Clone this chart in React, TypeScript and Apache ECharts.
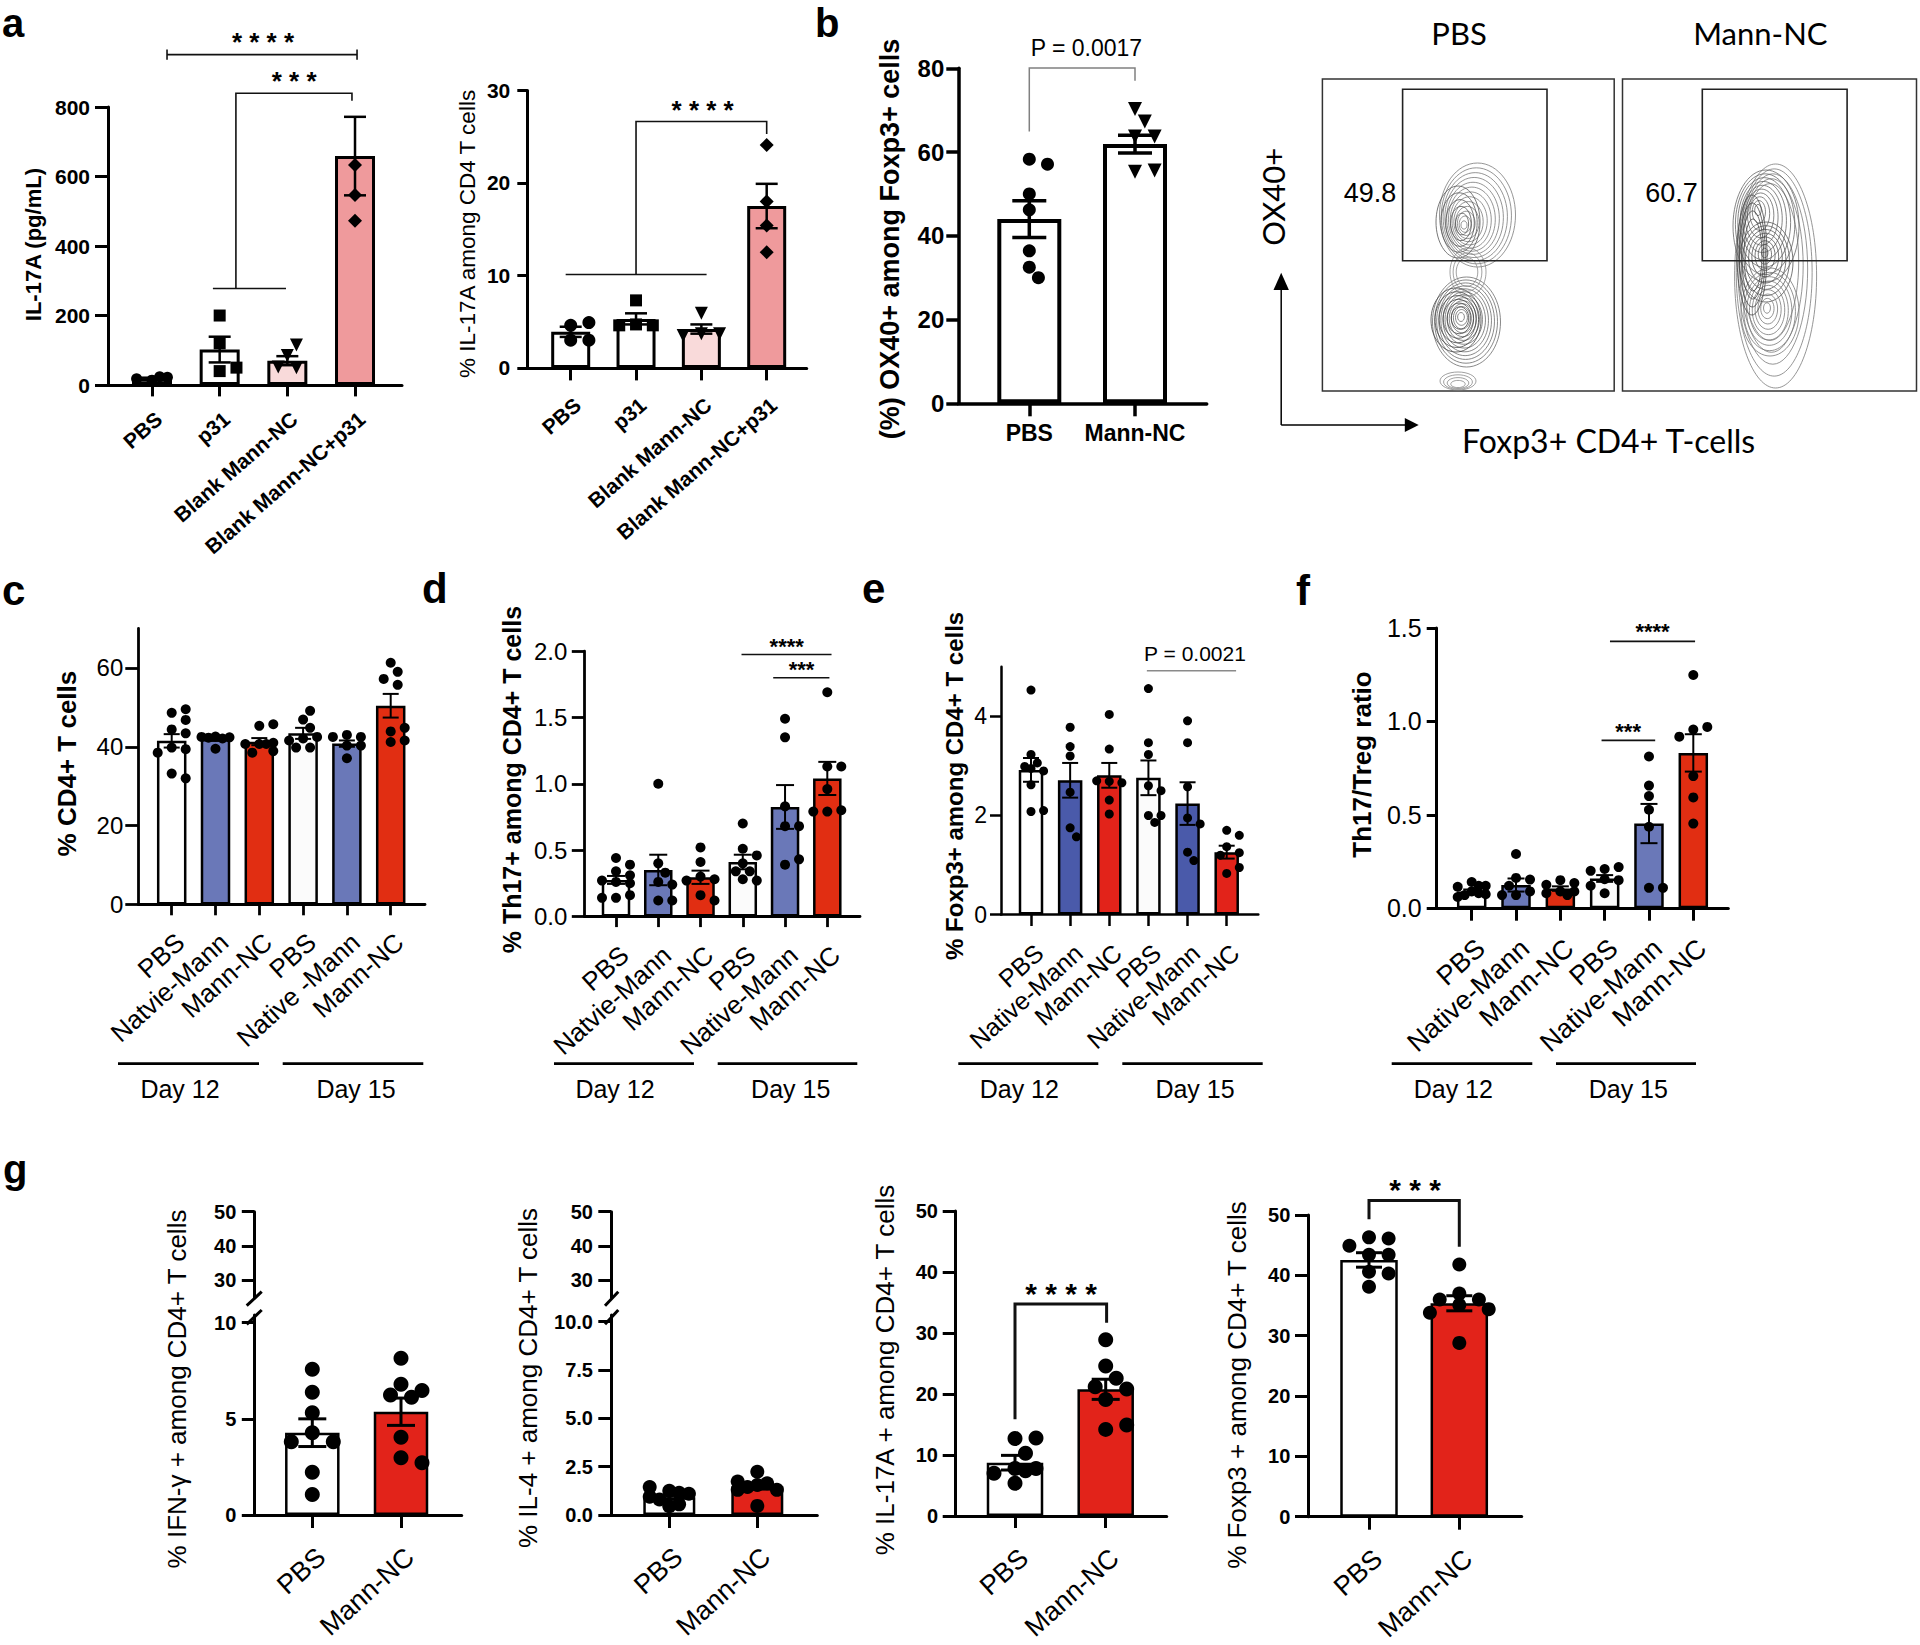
import React, { useEffect, useRef } from "react";
import * as echarts from "echarts";

const FONT = "'Liberation Sans', Arial, Helvetica, sans-serif";
const FONT_FLOW = "Lato, 'Open Sans', sans-serif";

// ================= DATA =================
// Panel a (left): IL-17A (pg/mL)
const A1_CATS = ["PBS", "p31", "Blank Mann-NC", "Blank Mann-NC+p31"];
const A1_YTICKS = [0, 200, 400, 600, 800];
const A1_MEAN = [18, 102, 70, 659];
const A1_SEM = [3, 37, 13, 113];
const A1_PBS = [14, 22, 18, 24];
const A1_P31 = [200, 120, 40, 50];
const A1_BLANK = [85, 115, 50, 52];
const A1_BLANK_P31 = [633, 547, 473];

// Panel a (right): % IL-17A among CD4 T cells
const A2_CATS = ["PBS", "p31", "Blank Mann-NC", "Blank Mann-NC+p31"];
const A2_YTICKS = [0, 10, 20, 30];
const A2_MEAN = [3.9, 5.3, 4.2, 17.5];
const A2_SEM = [0.55, 0.6, 0.5, 2.4];
const A2_PBS = [4.6, 4.9, 3.0, 3.0];
const A2_P31 = [7.3, 4.7, 4.6, 4.6];
const A2_BLANK = [5.9, 3.7, 3.7, 3.5];
const A2_BLANK_P31 = [24.1, 18.0, 15.4, 12.5];

// Panel b: (%) OX40+ among Foxp3+ cells
const B_CATS = ["PBS", "Mann-NC"];
const B_YTICKS = [0, 20, 40, 60, 80];
const B_MEAN = [44.0, 61.9];
const B_SEM = [4.4, 2.1];
const B_PBS = [58.3, 57.1, 50.0, 46.2, 36.4, 32.5, 30.0];
const B_MANN = [70.3, 67.3, 63.7, 63.7, 55.3, 55.6];

// Panel c: % CD4+ T cells
const C_CATS = ["PBS", "Natvie-Mann", "Mann-NC", "PBS", "Native -Mann", "Mann-NC"];
const C_YTICKS = [0, 20, 40, 60];
const C_MEAN = [41.5, 42.0, 41.3, 43.4, 40.8, 50.4];
const C_SEM = [1.7, 0.5, 0.9, 1.4, 0.8, 3.0];
const C_PTS = [
  [48.6, 49.5, 44.4, 46.8, 43.4, 39.8, 39.4, 38.5, 33.2, 32.0],
  [42.6, 42.4, 42.5, 42.1, 42.3, 39.5],
  [45.3, 45.7, 40.7, 41.0, 40.7, 40.7, 38.5, 38.9],
  [46.9, 49.1, 44.8, 42.1, 42.5, 41.6, 39.8, 39.8],
  [43.0, 42.5, 42.5, 40.3, 40.3, 37.1],
  [61.3, 59.0, 57.2, 55.7, 43.9, 44.8, 41.2, 41.6],
];

// Panel d: % Th17+ among CD4+ T cells
const D_CATS = ["PBS", "Natvie-Mann", "Mann-NC", "PBS", "Native-Mann", "Mann-NC"];
const D_YTICKS = [0, 0.5, 1.0, 1.5, 2.0];
const D_MEAN = [0.275, 0.35, 0.295, 0.41, 0.825, 1.04];
const D_SEM = [0.03, 0.115, 0.05, 0.055, 0.165, 0.125];
const D_PTS = [
  [0.44, 0.39, 0.34, 0.31, 0.26, 0.27, 0.25, 0.14, 0.16, 0.14],
  [1.0, 0.40, 0.33, 0.26, 0.24, 0.12, 0.12],
  [0.52, 0.41, 0.30, 0.28, 0.27, 0.16, 0.12],
  [0.70, 0.51, 0.46, 0.40, 0.34, 0.34, 0.28, 0.27],
  [1.49, 1.35, 0.83, 0.68, 0.68, 0.39, 0.43],
  [1.69, 1.13, 1.13, 0.96, 0.79, 0.80, 0.79],
];

// Panel e: % Foxp3+ among CD4+ T cells
const E_CATS = ["PBS", "Native-Mann", "Mann-NC", "PBS", "Native-Mann", "Mann-NC"];
const E_YTICKS = [0, 2, 4];
const E_MEAN = [2.92, 2.71, 2.81, 2.76, 2.24, 1.26];
const E_SEM = [0.24, 0.35, 0.25, 0.35, 0.43, 0.13];
const E_PTS = [
  [4.53, 3.23, 3.06, 2.99, 2.90, 2.95, 2.62, 2.08, 2.10],
  [3.78, 3.39, 3.20, 2.47, 1.75, 1.57],
  [4.04, 3.34, 2.69, 2.66, 2.70, 2.31, 2.03],
  [4.56, 3.47, 3.23, 2.60, 2.50, 2.00, 2.00, 1.86],
  [3.91, 3.47, 2.58, 1.95, 1.83, 1.26, 1.09],
  [1.70, 1.60, 1.37, 1.25, 1.20, 0.83, 0.95],
];

// Panel f: Th17/Treg ratio
const F_CATS = ["PBS", "Native-Mann", "Mann-NC", "PBS", "Native-Mann", "Mann-NC"];
const F_YTICKS = [0, 0.5, 1.0, 1.5];
const F_MEAN = [0.09, 0.124, 0.105, 0.159, 0.453, 0.831];
const F_SEM = [0.01, 0.035, 0.012, 0.018, 0.105, 0.1];
const F_PTS = [
  [0.14, 0.12, 0.115, 0.12, 0.09, 0.08, 0.07, 0.075, 0.06],
  [0.29, 0.162, 0.153, 0.12, 0.07, 0.09, 0.07],
  [0.15, 0.135, 0.125, 0.09, 0.09, 0.08, 0.07],
  [0.21, 0.22, 0.20, 0.155, 0.15, 0.12, 0.08],
  [0.812, 0.656, 0.60, 0.527, 0.436, 0.109, 0.109],
  [1.248, 0.956, 0.97, 0.918, 0.707, 0.593, 0.453],
];

// Panel g
const G_CATS = ["PBS", "Mann-NC"];
const G_TOP_TICKS = [30, 40, 50];
const G1_YTICKS = [0, 5, 10];
const G1_MEAN = [4.28, 5.37];
const G1_SEM = [0.72, 0.71];
const G1_PTS = [
  [7.58, 6.38, 5.32, 4.28, 3.81, 3.81, 2.22, 1.07],
  [8.15, 6.8, 6.47, 6.24, 6.12, 4.04, 2.98, 2.72],
];
const G2_YTICKS = [0, 2.5, 5, 7.5, 10];
const G2_MEAN = [0.92, 1.47];
const G2_SEM = [0.1, 0.13];
const G2_PTS = [
  [1.25, 1.1, 1.45, 1.15, 0.8, 0.95, 0.55, 0.45],
  [2.24, 1.64, 1.73, 1.55, 1.45, 1.3, 1.3, 0.47],
];
const G3_YTICKS = [0, 10, 20, 30, 40, 50];
const G3_MEAN = [8.74, 20.77];
const G3_SEM = [1.2, 1.65];
const G3_PTS = [
  [12.7, 12.8, 10.3, 7.8, 7.8, 7.0, 7.4, 5.36],
  [28.9, 24.6, 22.6, 21.2, 20.8, 19.1, 14.2, 14.9],
];
const G4_YTICKS = [0, 10, 20, 30, 40, 50];
const G4_MEAN = [42.55, 35.37];
const G4_SEM = [1.2, 1.25];
const G4_PTS = [
  [46.3, 46.1, 44.9, 43.4, 43.4, 40.6, 40.3, 38.1],
  [41.8, 37.0, 36.0, 36.0, 35.1, 34.4, 33.8, 28.8],
];

// Significance annotations (data coordinates of each panel)
const A1_ANN = [
  { lines: [[[0.222, 951], [3.03, 951]], [[0.222, 936], [0.222, 966]], [[3.03, 936], [3.03, 966]]], text: "* * * *", tx: 1.64, ty: 1004, size: 26, bold: true, star: true },
  { lines: [[[1.24, 278], [1.24, 840], [2.955, 840], [2.955, 818]], [[0.9, 278], [1.98, 278]]], text: "* * *", tx: 2.1, ty: 893, size: 26, bold: true, star: true },
];
const A2_ANN = [
  { lines: [[[1.0, 10.1], [1.0, 26.64], [3.0, 26.64], [3.0, 25.3]], [[-0.077, 10.1], [2.08, 10.1]]], text: "* * * *", tx: 2.02, ty: 28.56, size: 26, bold: true, star: true },
];
const B_ANN = [
  { lines: [[[0, 64.9], [0, 80.1], [1.0, 80.1], [1.0, 77]]], text: "P = 0.0017", tx: 0.54, ty: 84.8, size: 23, bold: false, star: false, lineColor: "#808080", lineWidth: 1.5 },
];
const D_ANN = [
  { lines: [[[2.97, 1.974], [5.1, 1.974]]], text: "****", tx: 4.04, ty: 2.073, size: 22, bold: true, star: true },
  { lines: [[[3.72, 1.799], [5.05, 1.799]]], text: "***", tx: 4.39, ty: 1.901, size: 22, bold: true, star: true },
];
const E_ANN = [
  { lines: [[[2.96, 4.92], [5.24, 4.92]]], text: "P = 0.0021", tx: 4.19, ty: 5.27, size: 21, bold: false, star: false, lineColor: "#8a8a8a", lineWidth: 1.5 },
];
const F_ANN = [
  { lines: [[[3.12, 1.428], [5.04, 1.428]]], text: "****", tx: 4.08, ty: 1.51, size: 22, bold: true, star: true },
  { lines: [[[2.93, 0.898], [4.14, 0.898]]], text: "***", tx: 3.53, ty: 0.975, size: 22, bold: true, star: true },
];
const G3_ANN = [
  { lines: [[[0, 15.85], [0, 34.75], [1.01, 34.75], [1.01, 31.7]]], text: "* * * *", tx: 0.507, ty: 37.6, size: 30, bold: true, star: true, lineWidth: 3 },
];
const G4_ANN = [
  { lines: [[[0, 49.3], [0, 52.4], [1.0, 52.4], [1.0, 44.75]]], text: "* * *", tx: 0.51, ty: 55.3, size: 30, bold: true, star: true, lineWidth: 3 },
];

// ================= STYLE =================
const WHITE = "#ffffff";
const OFFWHITE = "#fbfbfb";
const PINK_LIGHT = "#f9dada";
const PINK = "#ef9a9c";
const BLUE_C = "#6a78b8";
const RED_C = "#e12e12";
const BLUE_E = "#4a5aaa";
const RED_E = "#e2231a";

const SIX_C = [WHITE, BLUE_C, RED_C, OFFWHITE, BLUE_C, RED_C];
const SIX_E = [WHITE, BLUE_E, RED_E, OFFWHITE, BLUE_E, RED_E];
const CIRC6 = ["circle", "circle", "circle", "circle", "circle", "circle"];
const ZERO6 = [0, 0, 0, 0, 0, 0];

const PANELS: any[] = [
  { // a left
    axisX: 108, endX: 402, c0: 152, sp: 67.67, yTopPx: 107.1, yBotPx: 385, yMin: 0, yMax: 800, yTicks: A1_YTICKS, yDec: 0,
    yLabSize: 21, yLabBold: true, yLabMargin: 18, yTickLen: 13,
    cats: A1_CATS, xLabSize: 21, xLabBold: true, xRotate: 41, xLabMargin: 23, xTickLen: 11.4, axisW: 3,
    means: A1_MEAN, sems: A1_SEM, pts: [A1_PBS, A1_P31, A1_BLANK, A1_BLANK_P31],
    colors: [WHITE, WHITE, PINK_LIGHT, PINK], barW: 40, barBorder: 3,
    symbols: ["circle", "rect", "triangle", "diamond"], symRot: [0, 0, 180, 0], symSize: [11, 12, 13, 14],
    errCap: 11, errW: 2.5, ann: A1_ANN,
  },
  { // a right
    axisX: 527.3, endX: 806.7, c0: 570.7, sp: 65.33, yTopPx: 90.4, yBotPx: 367.9, yMin: 0, yMax: 30, yTicks: A2_YTICKS, yDec: 0,
    yLabSize: 21, yLabBold: true, yLabMargin: 17, yTickLen: 10,
    cats: A2_CATS, xLabSize: 21, xLabBold: true, xRotate: 41, xLabMargin: 26, xTickLen: 12.5, axisW: 3,
    means: A2_MEAN, sems: A2_SEM, pts: [A2_PBS, A2_P31, A2_BLANK, A2_BLANK_P31],
    colors: [WHITE, WHITE, PINK_LIGHT, PINK], barW: 39, barBorder: 3,
    symbols: ["circle", "rect", "triangle", "diamond"], symRot: [0, 0, 180, 0], symSize: [13, 12, 13, 14],
    errCap: 11, errW: 2.5, ann: A2_ANN,
  },
  { // b
    axisX: 958.3, endX: 1206.7, c0: 1029.3, sp: 105.7, yTopPx: 68.3, yBotPx: 403.3, yMin: 0, yMax: 80, yTicks: B_YTICKS, yDec: 0,
    yLabSize: 24, yLabBold: true, yLabMargin: 14, yTickLen: 12,
    cats: B_CATS, xLabSize: 23, xLabBold: true, xRotate: 0, xLabMargin: 18, xTickLen: 13, axisW: 3.5,
    means: B_MEAN, sems: B_SEM, pts: [B_PBS, B_MANN],
    colors: [WHITE, WHITE], barW: 64, barBorder: 4,
    symbols: ["circle", "triangle"], symRot: [0, 180], symSize: [13, 14],
    errCap: 17, errW: 3.5, ann: B_ANN,
  },
  { // c
    axisX: 138.3, endX: 425, c0: 171.7, sp: 43.8, yTopPx: 628.4, yBotPx: 904.6, yMin: 0, yMax: 70, yTicks: C_YTICKS, yDec: 0,
    yLabSize: 24, yLabBold: false, yLabMargin: 15, yTickLen: 13,
    cats: C_CATS, xLabSize: 26, xLabBold: false, xRotate: 42, xLabMargin: 24, xTickLen: 10.7, axisW: 2.8,
    means: C_MEAN, sems: C_SEM, pts: C_PTS,
    colors: SIX_C, barW: 29.5, barBorder: 2.5,
    symbols: CIRC6, symRot: ZERO6, symSize: [10, 10, 10, 10, 10, 10],
    errCap: 8, errW: 2, ann: [],
  },
  { // d
    axisX: 584.3, endX: 860, c0: 616, sp: 42.26, yTopPx: 651.1, yBotPx: 916.4, yMin: 0, yMax: 2, yTicks: D_YTICKS, yDec: 1,
    yLabSize: 24, yLabBold: false, yLabMargin: 17, yTickLen: 12.5,
    cats: D_CATS, xLabSize: 26, xLabBold: false, xRotate: 42, xLabMargin: 25, xTickLen: 10.7, axisW: 2.8,
    means: D_MEAN, sems: D_SEM, pts: D_PTS,
    colors: SIX_C, barW: 28.5, barBorder: 2.5,
    symbols: CIRC6, symRot: ZERO6, symSize: [10, 10, 10, 10, 10, 10],
    errCap: 9, errW: 2, ann: D_ANN,
  },
  { // e
    axisX: 1001, endX: 1258.3, c0: 1031, sp: 39.14, yTopPx: 666.8, yBotPx: 914.6, yMin: 0, yMax: 5, yTicks: E_YTICKS, yDec: 0,
    yLabSize: 23, yLabBold: false, yLabMargin: 14, yTickLen: 11,
    cats: E_CATS, xLabSize: 25, xLabBold: false, xRotate: 42, xLabMargin: 25, xTickLen: 11.4, axisW: 2.5,
    means: E_MEAN, sems: E_SEM, pts: E_PTS,
    colors: SIX_E, barW: 24.5, barBorder: 2.5,
    symbols: CIRC6, symRot: ZERO6, symSize: [9, 9, 9, 9, 9, 9],
    errCap: 8, errW: 2, ann: E_ANN,
  },
  { // f
    axisX: 1436.7, endX: 1728.3, c0: 1471.7, sp: 44.32, yTopPx: 627.9, yBotPx: 908.2, yMin: 0, yMax: 1.5, yTicks: F_YTICKS, yDec: 1,
    yLabSize: 25, yLabBold: false, yLabMargin: 15, yTickLen: 10,
    cats: F_CATS, xLabSize: 27, xLabBold: false, xRotate: 42, xLabMargin: 26, xTickLen: 12.5, axisW: 3,
    means: F_MEAN, sems: F_SEM, pts: F_PTS,
    colors: SIX_C, barW: 29.5, barBorder: 2.5,
    symbols: CIRC6, symRot: ZERO6, symSize: [10, 10, 10, 10, 10, 10],
    errCap: 8.5, errW: 2, ann: F_ANN,
  },
  { // g1
    axisX: 254.3, endX: 461.7, c0: 312.3, sp: 88.7, yTopPx: 1315.0, yBotPx: 1515, yMin: 0, yMax: 10.4, yTicks: G1_YTICKS, yDec: 0,
    yLabSize: 20, yLabBold: true, yLabMargin: 18, yTickLen: 12.5,
    cats: G_CATS, xLabSize: 27, xLabBold: false, xRotate: 42, xLabMargin: 28, xTickLen: 13, axisW: 3,
    means: G1_MEAN, sems: G1_SEM, pts: G1_PTS,
    colors: [WHITE, RED_E], barW: 54.5, barBorder: 2.5,
    symbols: ["circle", "circle"], symRot: [0, 0], symSize: [15, 15],
    errCap: 14, errW: 3, ann: [],
  },
  { // g2
    axisX: 611, endX: 817.3, c0: 669.3, sp: 88, yTopPx: 1314.9, yBotPx: 1515, yMin: 0, yMax: 10.35, yTicks: G2_YTICKS, yDec: 1,
    yLabSize: 20, yLabBold: true, yLabMargin: 18, yTickLen: 12.7,
    cats: G_CATS, xLabSize: 27, xLabBold: false, xRotate: 42, xLabMargin: 28, xTickLen: 13, axisW: 3,
    means: G2_MEAN, sems: G2_SEM, pts: G2_PTS,
    colors: [WHITE, RED_E], barW: 52, barBorder: 2.5,
    symbols: ["circle", "circle"], symRot: [0, 0], symSize: [14, 14],
    errCap: 14, errW: 3, ann: [],
  },
  { // g3
    axisX: 955, endX: 1166.7, c0: 1015, sp: 90.7, yTopPx: 1211, yBotPx: 1516, yMin: 0, yMax: 50, yTicks: G3_YTICKS, yDec: 0,
    yLabSize: 20, yLabBold: true, yLabMargin: 17, yTickLen: 12.3,
    cats: G_CATS, xLabSize: 27, xLabBold: false, xRotate: 42, xLabMargin: 28, xTickLen: 12, axisW: 3,
    means: G3_MEAN, sems: G3_SEM, pts: G3_PTS,
    colors: [WHITE, RED_E], barW: 56.5, barBorder: 2.5,
    symbols: ["circle", "circle"], symRot: [0, 0], symSize: [15, 15],
    errCap: 14, errW: 3, ann: G3_ANN,
  },
  { // g4
    axisX: 1308.3, endX: 1521.7, c0: 1369, sp: 90.3, yTopPx: 1215, yBotPx: 1516.7, yMin: 0, yMax: 50, yTicks: G4_YTICKS, yDec: 0,
    yLabSize: 20, yLabBold: true, yLabMargin: 18, yTickLen: 13.3,
    cats: G_CATS, xLabSize: 27, xLabBold: false, xRotate: 42, xLabMargin: 28, xTickLen: 13, axisW: 3,
    means: G4_MEAN, sems: G4_SEM, pts: G4_PTS,
    colors: [WHITE, RED_E], barW: 57.5, barBorder: 2.5,
    symbols: ["circle", "circle"], symRot: [0, 0], symSize: [14, 14],
    errCap: 13, errW: 3, ann: G4_ANN,
  },
];

const TOP_AXES: any[] = [
  { axisX: 254.3, endX: 461.7, yTopPx: 1211.7, yBotPx: 1297.2, yMin: 25, yMax: 50, yTicks: G_TOP_TICKS, labSize: 20, margin: 18, tickLen: 12.5, axisW: 3 },
  { axisX: 611, endX: 817.3, yTopPx: 1211.7, yBotPx: 1297.2, yMin: 25, yMax: 50, yTicks: G_TOP_TICKS, labSize: 20, margin: 18, tickLen: 12.7, axisW: 3 },
];

// ================= HELPERS =================
// simple beeswarm layout: spreads overlapping points sideways (pixel space),
// keeping them within the bar's half width
function swarm(vals: number[], pxPerY: number, pxPerX: number, d: number, maxOff: number): number[] {
  const placed: number[][] = [];
  const step = d * 0.7;
  const minD = d * 1.0;
  return vals.map((v) => {
    const py = v * pxPerY;
    let best = 0;
    let bestScore = -1;
    for (let k = 0; k < 60; k++) {
      const c = k === 0 ? 0 : (k % 2 === 1 ? 1 : -1) * Math.ceil(k / 2) * step;
      if (Math.abs(c) > maxOff) continue;
      let md = Infinity;
      for (const q of placed) {
        const dd = Math.hypot(q[0] - c, q[1] - py);
        if (dd < md) md = dd;
      }
      if (md >= minD) { best = c; bestScore = Infinity; break; }
      if (md > bestScore + 0.5) { bestScore = md; best = c; }
    }
    placed.push([best, py]);
    return best / pxPerX;
  });
}

function yAxisCfg(gi: number, min: number, max: number, ticks: number[], dec: number, size: number, bold: boolean, margin: number, tickLen: number, w: number) {
  return {
    type: "value", gridIndex: gi, min, max,
    axisLine: { show: true, onZero: false, lineStyle: { color: "#000", width: w } },
    axisTick: { show: true, customValues: ticks, length: tickLen, lineStyle: { color: "#000", width: w } },
    axisLabel: {
      show: true, customValues: ticks, margin, fontSize: size, fontWeight: bold ? "bold" : "normal", color: "#000", fontFamily: FONT,
      formatter: (v: number) => (dec ? Number(v).toFixed(dec) : String(Math.round(v))),
    },
    splitLine: { show: false },
  };
}

function addPanel(opt: any, p: any) {
  const gi = opt.grid.length;
  const xMin = -(p.c0 - p.axisX) / p.sp;
  const xMax = xMin + (p.endX - p.axisX) / p.sp;
  opt.grid.push({ left: p.axisX, top: p.yTopPx, width: p.endX - p.axisX, height: p.yBotPx - p.yTopPx, containLabel: false, outerBoundsMode: "none" });
  const idx = p.cats.map((_: any, k: number) => k);
  opt.xAxis.push({
    type: "value", gridIndex: gi, min: xMin, max: xMax,
    axisLine: { show: true, onZero: false, lineStyle: { color: "#000", width: p.axisW } },
    axisTick: { show: true, customValues: idx, length: p.xTickLen, lineStyle: { color: "#000", width: p.axisW } },
    axisLabel: {
      show: true, customValues: idx, rotate: p.xRotate, margin: p.xLabMargin, fontSize: p.xLabSize,
      fontWeight: p.xLabBold ? "bold" : "normal", color: "#000", fontFamily: FONT,
      align: p.xRotate ? "right" : "center", verticalAlign: "top",
      formatter: (v: number) => p.cats[Math.round(v)] ?? "",
    },
    splitLine: { show: false },
  });
  opt.yAxis.push(yAxisCfg(gi, p.yMin, p.yMax, p.yTicks, p.yDec, p.yLabSize, p.yLabBold, p.yLabMargin, p.yTickLen, p.axisW));

  opt.series.push({
    type: "bar", xAxisIndex: gi, yAxisIndex: gi, barWidth: p.barW, z: 2, silent: true,
    itemStyle: { borderColor: "#000", borderWidth: p.barBorder },
    data: p.means.map((m: number, k: number) => ({ value: [k, m], itemStyle: { color: p.colors[k], borderColor: "#000", borderWidth: p.barBorder } })),
  });

  const pxPerY = (p.yBotPx - p.yTopPx) / (p.yMax - p.yMin);
  p.pts.forEach((vals: number[], k: number) => {
    const offs = swarm(vals, pxPerY, p.sp, p.symSize[k], p.barW / 2 + 2);
    opt.series.push({
      type: "scatter", xAxisIndex: gi, yAxisIndex: gi, z: 3, silent: true,
      symbol: p.symbols[k], symbolRotate: p.symRot[k], symbolSize: p.symSize[k],
      itemStyle: { color: "#000", opacity: 1 },
      data: vals.map((v, j) => [k + offs[j], v]),
    });
  });

  opt.series.push({
    type: "custom", xAxisIndex: gi, yAxisIndex: gi, z: 4, silent: true, clip: false,
    data: p.means.map((m: number, k: number) => [k, m, p.sems[k]]),
    renderItem: (params: any, api: any) => {
      const x = api.value(0);
      const m = api.value(1);
      const s = api.value(2);
      const top = api.coord([x, m + s]);
      const bot = api.coord([x, Math.max(0, m - s)]);
      const cx = top[0];
      const hw = p.errCap;
      const st = { stroke: "#000", lineWidth: p.errW };
      return {
        type: "group",
        children: [
          { type: "line", shape: { x1: cx, y1: top[1], x2: cx, y2: bot[1] }, style: st },
          { type: "line", shape: { x1: cx - hw, y1: top[1], x2: cx + hw, y2: top[1] }, style: st },
          { type: "line", shape: { x1: cx - hw, y1: bot[1], x2: cx + hw, y2: bot[1] }, style: st },
        ],
      };
    },
  });

  if (p.ann && p.ann.length) {
    const anns = p.ann;
    opt.series.push({
      type: "custom", xAxisIndex: gi, yAxisIndex: gi, z: 6, silent: true, clip: false,
      data: anns.map((a: any, k: number) => [a.tx, a.ty, k]),
      renderItem: (params: any, api: any) => {
        const a = anns[params.dataIndex];
        const children: any[] = [];
        a.lines.forEach((seg: number[][]) => {
          children.push({
            type: "polyline",
            shape: { points: seg.map((pt) => api.coord(pt)) },
            style: { fill: "none", stroke: a.lineColor || "#111", lineWidth: a.lineWidth || 1.6 },
          });
        });
        const c = api.coord([a.tx, a.ty]);
        children.push({
          type: "text", x: c[0], y: c[1] + (a.star ? 0.23 * a.size : 0),
          style: { text: a.text, fontSize: a.size, fontWeight: a.bold ? "bold" : "normal", fontFamily: FONT, fill: a.color || "#000", align: "center", verticalAlign: "middle" },
        });
        return { type: "group", children };
      },
    });
  }
}

function addTopAxis(opt: any, t: any) {
  const gi = opt.grid.length;
  opt.grid.push({ left: t.axisX, top: t.yTopPx, width: t.endX - t.axisX, height: t.yBotPx - t.yTopPx, containLabel: false, outerBoundsMode: "none" });
  opt.xAxis.push({ type: "value", gridIndex: gi, min: 0, max: 1, show: false });
  opt.yAxis.push(yAxisCfg(gi, t.yMin, t.yMax, t.yTicks, 0, t.labSize, true, t.margin, t.tickLen, t.axisW));
}

function T(x: number, y: number, text: string, size: number, o: any = {}) {
  return {
    type: "text", x, y, rotation: o.rot || 0, silent: true,
    style: { text, fontSize: size, fontWeight: o.bold ? "bold" : "normal", fontFamily: o.font || FONT, fill: o.color || "#000", align: o.align || "center", verticalAlign: "middle" },
  };
}
function L(x1: number, y1: number, x2: number, y2: number, w = 2.5, color = "#000") {
  return { type: "line", silent: true, shape: { x1, y1, x2, y2 }, style: { stroke: color, lineWidth: w } };
}
function R(x: number, y: number, w: number, h: number, lw = 1.5, color = "#333") {
  return { type: "rect", silent: true, shape: { x, y, width: w, height: h }, style: { fill: "none", stroke: color, lineWidth: lw } };
}
function rings(cx0: number, cy0: number, rx0: number, ry0: number, cx1: number, cy1: number, n: number, fmin: number, color: string, lw = 0.8) {
  const out: any[] = [];
  for (let i = 0; i < n; i++) {
    const t = n > 1 ? i / (n - 1) : 0;
    const f = 1 - t * (1 - fmin);
    out.push({
      type: "ellipse", silent: true,
      shape: { cx: cx0 + (cx1 - cx0) * t, cy: cy0 + (cy1 - cy0) * t, rx: rx0 * f, ry: ry0 * f },
      style: { fill: "none", stroke: color, lineWidth: lw },
    });
  }
  return out;
}

function buildGraphics() {
  const els: any[] = [];
  const lt = (x: number, base: number, s: string, size: number) => els.push(T(x, base - 0.3465 * size, s, size, { bold: true, align: "left" }));
  lt(2, 37, "a", 40); lt(815, 37, "b", 40); lt(2, 604.6, "c", 42); lt(422, 603, "d", 42); lt(862, 603, "e", 42); lt(1296, 604.6, "f", 42); lt(3, 1183, "g", 40);

  const R90 = Math.PI / 2;
  const ytitles: any[] = [
    [33, 244.6, "IL-17A (pg/mL)", 22, true],
    [467, 233.9, "% IL-17A among CD4 T cells", 22.5, false],
    [890, 239, "(%) OX40+ among Foxp3+ cells", 27, true],
    [67, 763.6, "% CD4+ T cells", 26, true],
    [512, 779.6, "% Th17+ among CD4+ T cells", 25, true],
    [954, 785.9, "% Foxp3+ among CD4+ T cells", 24, true],
    [1362, 764.5, "Th17/Treg ratio", 26, true],
    [177, 1389, "% IFN-γ + among CD4+ T cells", 26, false],
    [528, 1378, "% IL-4 + among CD4+ T cells", 26, false],
    [885, 1370, "% IL-17A + among CD4+ T cells", 26, false],
    [1237, 1385, "% Foxp3 + among CD4+ T cells", 26, false],
  ];
  ytitles.forEach((t) => els.push(T(t[0], t[1], t[2], t[3], { bold: t[4], rot: R90 })));

  // Day groupings
  const days: number[][] = [
    [118, 259, 282.7, 423.3, 180, 356],
    [554, 694, 717.7, 857.3, 615, 790.7],
    [958.3, 1098.3, 1122.3, 1262.7, 1019.3, 1195],
    [1391.7, 1532.3, 1556, 1696, 1453.3, 1628.3],
  ];
  days.forEach((d) => {
    els.push(L(d[0], 1063.6, d[1], 1063.6, 2.6));
    els.push(L(d[2], 1063.6, d[3], 1063.6, 2.6));
    els.push(T(d[4], 1088.6, "Day 12", 25));
    els.push(T(d[5], 1088.6, "Day 15", 25));
  });

  // axis break marks (panel g)
  els.push(L(246.7, 1305.7, 261.7, 1291.7, 3), L(246.7, 1324.3, 261.7, 1310, 3));
  els.push(L(605, 1305.7, 618.3, 1291.7, 3), L(605, 1324.3, 618.3, 1310, 3));

  // flow cytometry plots (b, right)
  els.push(T(1459, 33.3, "PBS", 31, { font: FONT_FLOW }));
  els.push(T(1760.4, 33.3, "Mann-NC", 31, { font: FONT_FLOW }));
  els.push(R(1322.4, 79, 291.8, 312, 1.5, "#333"));
  els.push(R(1622.5, 79, 294, 312, 1.5, "#333"));
  // PBS contours
  els.push(...rings(1477.5, 215, 38, 52, 1464, 225, 13, 0.08, "#7a7a7a"));
  els.push(...rings(1458, 222, 22, 36, 1462, 224, 5, 0.3, "#555"));
  els.push(...rings(1466.5, 322, 34, 45, 1461, 317, 13, 0.1, "#6a6a6a"));
  els.push(...rings(1456, 320, 25, 32, 1460, 318, 6, 0.35, "#444"));
  els.push(...rings(1468, 272, 18, 24, 1467, 272, 3, 0.6, "#8a8a8a"));
  els.push(...rings(1458, 381, 18, 9, 1458, 384, 4, 0.4, "#888"));
  // Mann-NC contours
  els.push(...rings(1775.6, 276, 41, 112, 1770, 262, 5, 0.7, "#7a7a7a"));
  els.push(...rings(1766, 226, 33, 56, 1758, 210, 10, 0.1, "#666"));
  els.push(...rings(1766, 262, 27, 40, 1764.7, 253, 8, 0.12, "#555"));
  els.push(...rings(1770, 312, 29, 44, 1767, 308, 9, 0.12, "#777"));
  els.push(...rings(1752, 255, 15, 60, 1753, 255, 4, 0.6, "#444"));
  // gates
  els.push(R(1402.6, 89.3, 144.4, 171.4, 1.6, "#222"));
  els.push(R(1702.3, 89.3, 144.8, 171.4, 1.6, "#222"));
  els.push(T(1370, 193.3, "49.8", 27));
  els.push(T(1671.5, 193.3, "60.7", 27));
  els.push(T(1272.5, 196.7, "OX40+", 31, { font: FONT_FLOW, rot: R90 }));
  els.push(T(1608.6, 440, "Foxp3+ CD4+ T-cells", 32, { font: FONT_FLOW }));
  els.push(L(1281.2, 425, 1281.2, 289, 1.5));
  els.push({ type: "polygon", silent: true, shape: { points: [[1281.2, 272.7], [1273.5, 290], [1288.9, 290]] }, style: { fill: "#000" } });
  els.push(L(1281.2, 425, 1406, 425, 1.5));
  els.push({ type: "polygon", silent: true, shape: { points: [[1418.7, 425], [1404.8, 418], [1404.8, 432]] }, style: { fill: "#000" } });
  return els;
}

function buildOption() {
  const opt: any = {
    animation: false,
    backgroundColor: "#ffffff",
    textStyle: { fontFamily: FONT, color: "#000" },
    grid: [], xAxis: [], yAxis: [], series: [],
  };
  PANELS.forEach((p) => addPanel(opt, p));
  TOP_AXES.forEach((t) => addTopAxis(opt, t));
  opt.graphic = { elements: buildGraphics() };
  return opt;
}

export default function App() {
  const ref = useRef<HTMLDivElement>(null);
  useEffect(() => {
    document.body.style.margin = "0";
    const chart = echarts.init(ref.current as HTMLDivElement, undefined, { renderer: "svg", width: 1920, height: 1645 });
    chart.setOption(buildOption());
    return () => chart.dispose();
  }, []);
  return <div ref={ref} style={{ position: "absolute", left: 0, top: 0, width: 1920, height: 1645, background: "#fff" }} />;
}
